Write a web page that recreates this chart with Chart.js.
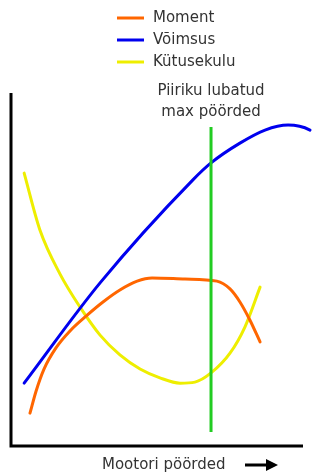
<!DOCTYPE html>
<html>
<head>
<meta charset="utf-8">
<script src="https://cdn.jsdelivr.net/npm/chart.js@4/dist/chart.umd.min.js"></script>
<style>
  html, body { margin: 0; padding: 0; background: #fff; }
  #engineChart { display: block; }
</style>
</head>
<body>
<canvas id="engineChart" width="332" height="472"></canvas>
<script>
// Curves, relative units (0..100 on both axes)
const momentX = [6.5, 8.6, 11.3, 15.4, 20.2, 25.7, 31.5, 37.3, 43.2, 48.3, 59.6, 70.5, 75.0, 78.4, 81.8, 85.3];
const momentY = [9.3, 15.6, 21.8, 27.8, 32.6, 36.8, 40.8, 44.2, 46.7, 47.6, 47.3, 46.7, 44.5, 40.8, 35.7, 29.5];

const voimsusX = [4.5, 30.5, 62.3, 68.5, 78.4, 87.0, 94.9, 102.4, 108.2, 112.7];
const voimsusY = [17.8, 46.2, 75.4, 80.2, 85.8, 89.5, 90.9, 89.5, 85.8, 82.2];

const kytusX = [4.5, 9.9, 16.8, 23.6, 30.5, 37.3, 44.2, 51.0, 57.9, 63.0, 68.5, 75.0, 80.1, 85.3];
const kytusY = [77.3, 61.2, 48.7, 39.4, 31.4, 25.8, 21.8, 19.3, 17.8, 18.1, 20.7, 26.3, 33.7, 45.0];

// max rpm limit line
const limitX = [68.5, 68.5];
const limitY = [4.0, 90.4];

const seriesNames = ['Moment', 'Võimsus', 'Kütusekulu'];
const seriesColors = ['#ff6600', '#0000ee', '#eeee00'];
const limitColor = '#22cc22';

const toPoints = (xs, ys) => xs.map((x, i) => ({ x: x, y: ys[i] }));

function lineSet(label, xs, ys, color) {
    return {
        label: label,
        data: toPoints(xs, ys),
        borderColor: color,
        borderWidth: 3,
        borderCapStyle: 'round',
        pointRadius: 0,
        cubicInterpolationMode: 'monotone',
        fill: false,
        clip: false
    };
}

// axes, legend and labels drawn by hand
const decorations = {
    id: 'decorations',
    afterDraw(chart) {
        const c = chart.ctx;
        const a = chart.chartArea;
        c.save();

        // axes
        c.strokeStyle = '#000';
        c.lineWidth = 3;
        c.beginPath();
        c.moveTo(a.left, a.top);
        c.lineTo(a.left, a.bottom);
        c.lineTo(a.right, a.bottom);
        c.stroke();

        c.font = '15px "DejaVu Sans"';
        c.fillStyle = '#333';
        c.textBaseline = 'middle';

        // legend
        const legendY = [18, 40, 62];
        seriesNames.forEach((name, i) => {
            c.strokeStyle = seriesColors[i];
            c.lineWidth = 3;
            c.beginPath();
            c.moveTo(117, legendY[i]);
            c.lineTo(144, legendY[i]);
            c.stroke();
            c.textAlign = 'left';
            c.fillText(name, 153, legendY[i]);
        });

        // limit label
        const lx = chart.scales.x.getPixelForValue(limitX[0]);
        c.textAlign = 'center';
        c.fillText('Piiriku lubatud', lx, 91);
        c.fillText('max pöörded', lx, 112);

        // x title with arrow
        c.textAlign = 'left';
        c.fillText('Mootori pöörded', 102, 465);
        c.strokeStyle = '#000';
        c.fillStyle = '#000';
        c.lineWidth = 3;
        c.beginPath();
        c.moveTo(245, 465);
        c.lineTo(268, 465);
        c.stroke();
        c.beginPath();
        c.moveTo(278, 465);
        c.lineTo(266, 459);
        c.lineTo(266, 471);
        c.closePath();
        c.fill();

        c.restore();
    }
};

const ctx = document.getElementById('engineChart').getContext('2d');

const engineChart = new Chart(ctx, {
    type: 'line',
    data: {
        datasets: [
            {
                label: 'limit',
                data: toPoints(limitX, limitY),
                borderColor: limitColor,
                borderWidth: 3,
                pointRadius: 0,
                tension: 0,
                fill: false
            },
            lineSet(seriesNames[0], momentX, momentY, seriesColors[0]),
            lineSet(seriesNames[1], voimsusX, voimsusY, seriesColors[1]),
            lineSet(seriesNames[2], kytusX, kytusY, seriesColors[2])
        ]
    },
    options: {
        responsive: false,
        animation: false,
        layout: {
            padding: { left: 11, right: 29, top: 93, bottom: 26 }
        },
        scales: {
            x: { type: 'linear', min: 0, max: 100, display: false },
            y: { type: 'linear', min: 0, max: 100, display: false }
        },
        plugins: {
            legend: { display: false },
            tooltip: { enabled: false }
        }
    },
    plugins: [decorations]
});
</script>
</body>
</html>
